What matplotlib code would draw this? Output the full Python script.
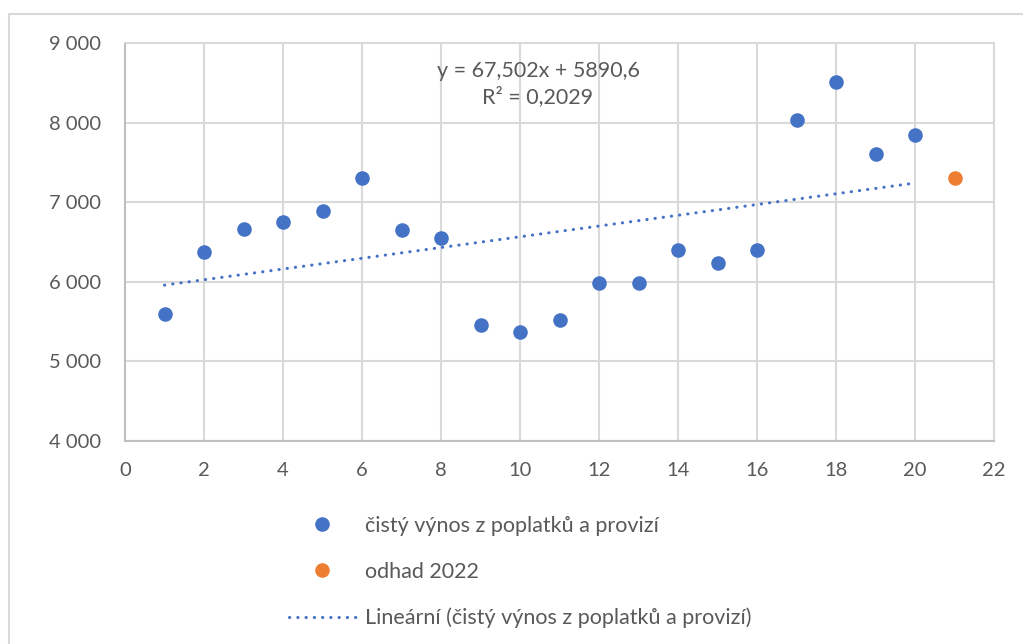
import matplotlib
matplotlib.use("Agg")
import matplotlib.pyplot as plt
from matplotlib.lines import Line2D
from matplotlib.patches import Rectangle
from matplotlib.ticker import FuncFormatter, MultipleLocator

plt.rcParams["font.family"] = ["Lato", "DejaVu Sans"]

# Net fee and commission income by period
periods = list(range(1, 21))
income = [5600, 6370, 6660, 6745, 6890, 7310, 6650, 6550, 5455, 5370,
          5515, 5980, 5980, 6405, 6230, 6405, 8035, 8515, 7600, 7845]

# Estimate for 2022
est_x = [21]
est_y = [7310]

# Linear trend as given in the label
slope = 67.502
intercept = 5890.6
r2 = 0.2029
trend_x = [1, 20]

BLUE = "#4472C4"
ORANGE = "#ED7D31"
GREY_TXT = "#595959"
GRID = "#d9d9d9"
DOTS = (0, (0.1, 2.6))


def thousands(v, pos):
    return f"{int(v):,}".replace(",", " ")


def cz(v, nd):
    return f"{v:.{nd}f}".replace(".", ",")


fig = plt.figure(figsize=(10.23, 6.44), dpi=100)
ax = fig.add_axes([125 / 1023, 1 - 441 / 644, (994 - 125) / 1023, (441 - 43) / 644])

ax.scatter(periods, income, s=110, color=BLUE, zorder=3, linewidths=0)
ax.scatter(est_x, est_y, s=110, color=ORANGE, zorder=3, linewidths=0)
trend_y = [slope * x + intercept for x in trend_x]
ax.plot(trend_x, trend_y, color=BLUE, lw=2.2, linestyle=DOTS,
        dash_capstyle="round", zorder=2)

ax.set_xlim(0, 22)
ax.set_ylim(4000, 9000)
ax.xaxis.set_major_locator(MultipleLocator(2))
ax.yaxis.set_major_locator(MultipleLocator(1000))
ax.yaxis.set_major_formatter(FuncFormatter(thousands))
ax.grid(True, color=GRID, lw=1.5, zorder=0)
ax.set_axisbelow(True)
for side in ["top", "right"]:
    ax.spines[side].set_color(GRID)
    ax.spines[side].set_linewidth(1.5)
for side in ["left", "bottom"]:
    ax.spines[side].set_color("#bfbfbf")
    ax.spines[side].set_linewidth(1.5)
ax.tick_params(length=0, labelsize=14.5, labelcolor=GREY_TXT)
ax.tick_params(axis="y", pad=17)
ax.tick_params(axis="x", pad=15)

ax.text(538 / 1023, 1 - 84 / 644,
        f"y = {cz(slope, 3)}x + {cz(intercept, 1)}\nR² = {cz(r2, 4)}",
        transform=fig.transFigure, ha="center", va="center",
        fontsize=15.5, color=GREY_TXT, linespacing=1.35)

handles = [
    Line2D([], [], ls="none", marker="o", ms=10.5, color=BLUE, mew=0),
    Line2D([], [], ls="none", marker="o", ms=10.5, color=ORANGE, mew=0),
    Line2D([], [], color=BLUE, lw=2.2, linestyle=DOTS, dash_capstyle="round"),
]
labels = [
    "čistý výnos z poplatků a provizí",
    "odhad 2022",
    "Lineární (čistý výnos z poplatků a provizí)",
]
fig.legend(handles, labels, loc="upper left",
           bbox_to_anchor=(289 / 1023, 1 - 516 / 644),
           frameon=False, fontsize=15.5, labelcolor=GREY_TXT,
           handlelength=3.1, handletextpad=0.42, labelspacing=1.2,
           borderpad=0, borderaxespad=0)

# light frame around the chart area
fig.patches.append(Rectangle((9 / 1023, -0.1), 1.2, 0.1 + (644 - 13.5) / 644,
                             transform=fig.transFigure, fill=False,
                             edgecolor=GRID, lw=1.5))

fig.savefig("out.png", dpi=100)
